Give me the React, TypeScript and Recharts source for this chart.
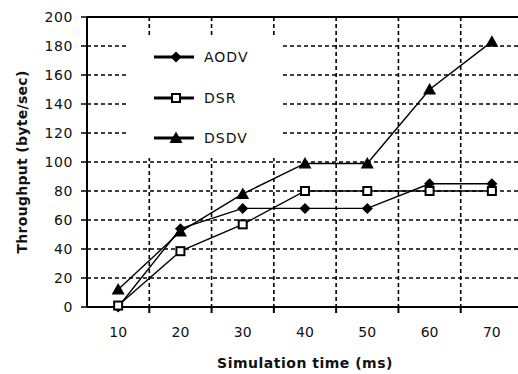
import React from 'react'
import { LineChart, Line, XAxis, YAxis, CartesianGrid, ReferenceLine } from 'recharts'

// simulation time (ms)
const times = [10, 20, 30, 40, 50, 60, 70]
// throughput (byte/sec)
const aodv = [0, 54, 68, 68, 68, 85, 85]
const dsr = [1, 38.5, 57, 80, 80, 80, 80]
const dsdv = [12, 52, 78, 99, 99, 150, 183]

const yTicks = [0, 20, 40, 60, 80, 100, 120, 140, 160, 180, 200]
const cellBounds = [15, 25, 35, 45, 55, 65]
const xDomain = [5, 75]

type Kind = 'diamond' | 'square' | 'triangle'
const series: { key: string; kind: Kind }[] = [
  { key: 'AODV', kind: 'diamond' },
  { key: 'DSR', kind: 'square' },
  { key: 'DSDV', kind: 'triangle' },
]

const data = times.map((t, i) => ({ t, AODV: aodv[i], DSR: dsr[i], DSDV: dsdv[i] }))

const FONT = '"DejaVu Sans", Arial, sans-serif'

function Marker({ kind, cx, cy }: { kind: Kind; cx: number; cy: number }) {
  if (kind === 'diamond')
    return <polygon points={`${cx},${cy - 5.5} ${cx + 5.5},${cy} ${cx},${cy + 5.5} ${cx - 5.5},${cy}`} fill="#000" />
  if (kind === 'square')
    return <rect x={cx - 4} y={cy - 4} width={8} height={8} fill="#fff" stroke="#000" strokeWidth={2} />
  return <polygon points={`${cx},${cy - 6.5} ${cx + 6.5},${cy + 5} ${cx - 6.5},${cy + 5}`} fill="#000" />
}

function XTick({ x, y, payload }: any) {
  const v = payload.value
  if (cellBounds.includes(v)) {
    return <line x1={x} x2={x} y1={y - 20} y2={y - 14} stroke="#000" strokeWidth={2} />
  }
  return (
    <text x={x} y={y} dy="0.71em" textAnchor="middle" fontSize={14} fontFamily={FONT} fill="#111">
      {v}
    </text>
  )
}

export default function App() {
  const xTicks = [...times, ...cellBounds].sort((a, b) => a - b)
  return (
    <div style={{ position: 'absolute', left: 0, top: 0, width: 518, height: 374, overflow: 'hidden', background: '#fff' }}>
      <LineChart width={530} height={374} data={data} margin={{ top: 17, right: 7, bottom: 0, left: 0 }}>
        <XAxis xAxisId="cells" dataKey="t" type="number" domain={xDomain} ticks={cellBounds} hide />
        <CartesianGrid xAxisId="cells" stroke="#000" strokeWidth={1.6} strokeDasharray="4 3" />
        <XAxis
          dataKey="t"
          type="number"
          domain={xDomain}
          ticks={xTicks}
          interval={0}
          height={67}
          tickSize={6}
          tickMargin={14}
          tickLine={false}
          tick={<XTick />}
          axisLine={{ stroke: '#000', strokeWidth: 2 }}
          label={{
            content: (p: any) => {
              const vb = p.viewBox
              return (
                <text x={vb.x + vb.width / 2} y={vb.y + 56} textAnchor="middle" dominantBaseline="central"
                  fontSize={14} fontWeight="bold" fontFamily={FONT} letterSpacing={0.5} fill="#111">
                  Simulation time (ms)
                </text>
              )
            },
          }}
        />
        <YAxis
          domain={[0, 200]}
          ticks={yTicks}
          width={87}
          tickSize={6}
          tickMargin={8}
          tick={{ fontSize: 14, fontFamily: FONT, fill: '#111', letterSpacing: 0.6 }}
          tickLine={{ stroke: '#000', strokeWidth: 1.5 }}
          axisLine={{ stroke: '#000', strokeWidth: 2 }}
          label={{
            content: (p: any) => {
              const vb = p.viewBox
              const cx = 22
              const cy = vb.y + vb.height / 2
              return (
                <text x={cx} y={cy} transform={`rotate(-90 ${cx} ${cy})`} textAnchor="middle" dominantBaseline="central"
                  fontSize={14} fontWeight="bold" fontFamily={FONT} letterSpacing={0.3} fill="#111">
                  Throughput  (byte/sec)
                </text>
              )
            },
          }}
        />
        <ReferenceLine y={200} stroke="#000" strokeWidth={2} />
        {series.map(s => (
          <Line
            key={s.key}
            dataKey={s.key}
            type="linear"
            stroke="#000"
            strokeWidth={1.4}
            isAnimationActive={false}
            dot={(p: any) => <Marker key={`${s.key}-${p.index}`} kind={s.kind} cx={p.cx} cy={p.cy} />}
            activeDot={false}
          />
        ))}
      </LineChart>
      <div style={{ position: 'absolute', left: 128, top: 37, width: 152, height: 121, background: '#fff' }}>
        <svg width={152} height={121}>
          {series.map((s, i) => {
            const y = [20, 61, 101][i]
            return (
              <g key={s.key}>
                <line x1={26} x2={66} y1={y} y2={y} stroke="#000" strokeWidth={3} />
                <Marker kind={s.kind} cx={48} cy={y} />
                <text x={76} y={y} dominantBaseline="central" fontSize={14} fontFamily={FONT} letterSpacing={1} fill="#111">
                  {s.key}
                </text>
              </g>
            )
          })}
        </svg>
      </div>
    </div>
  )
}
